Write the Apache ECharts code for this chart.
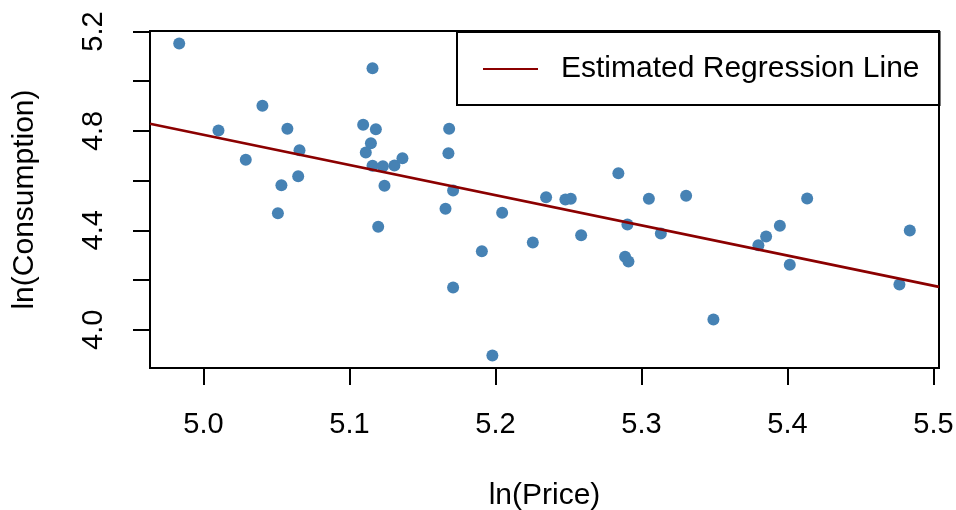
<!DOCTYPE html>
<html>
<head>
<meta charset="utf-8">
<script src="https://cdn.jsdelivr.net/npm/echarts@6/dist/echarts.min.js"></script>
<style>
html,body{margin:0;padding:0;background:#fff;}
#chart{width:956px;height:510px;}
</style>
</head>
<body>
<div id="chart"></div>
<script>
// ln(Price) of each observation
var lnPrice = [4.9834, 5.1158, 5.0404, 5.0103, 5.0575, 5.1094, 5.1181, 5.1683, 5.1147, 5.1112,
  5.1678, 5.0658, 5.0290, 5.1158, 5.1229, 5.1308, 5.1363, 5.0649, 5.0534, 5.1240,
  5.1710, 5.0510, 5.1658, 5.1197, 5.1710, 5.2842, 5.2347, 5.2479, 5.2516, 5.3051,
  5.3306, 5.4135, 5.2046, 5.2904, 5.2256, 5.2587, 5.3133, 5.3948, 5.3854, 5.3801,
  5.1907, 5.2888, 5.2911, 5.4016, 5.4767, 5.4838, 5.3493, 5.1979];
// ln(Consumption) of each observation
var lnCons = [5.1517, 5.0523, 4.9010, 4.8016, 4.8085, 4.8245, 4.8068, 4.8085, 4.7505, 4.7131,
  4.7103, 4.7223, 4.6837, 4.6596, 4.6580, 4.6608, 4.6901, 4.6177, 4.5815, 4.5791,
  4.5602, 4.4688, 4.4865, 4.4141, 4.1698, 4.6298, 4.5332, 4.5239, 4.5268, 4.5268,
  4.5388, 4.5280, 4.4704, 4.4233, 4.3509, 4.3803, 4.3871, 4.4181, 4.3751, 4.3400,
  4.3159, 4.2934, 4.2744, 4.2612, 4.1819, 4.3992, 4.0410, 3.8962];
// Estimated regression line endpoints
var lineX = [4.9634, 5.5038];
var lineY = [4.8286, 4.1726];
// Tick positions and labels
var xTicks = [5.0, 5.1, 5.2, 5.3, 5.4, 5.5];
var yTicks = [4.0, 4.2, 4.4, 4.6, 4.8, 5.0, 5.2];
var yLabels = [4.0, 4.4, 4.8, 5.2];
var xRange = [4.9634, 5.5038];
var yRange = [3.846, 5.202];

var points = lnPrice.map(function (x, i) { return [x, lnCons[i]]; });
var linePts = lineX.map(function (x, i) { return [x, lineY[i]]; });

var FONT = 'Liberation Sans, Arial, Helvetica, sans-serif';
var chart = echarts.init(document.getElementById('chart'), null, {renderer: 'canvas'});
chart.setOption({
  animation: false,
  backgroundColor: '#fff',
  textStyle: {fontFamily: FONT, color: '#000'},
  grid: {left: 150, right: 17, top: 31, bottom: 142, show: true, borderColor: '#000', borderWidth: 2,
    backgroundColor: 'transparent', containLabel: false, outerBoundsMode: 'none'},
  xAxis: {
    type: 'value', min: xRange[0], max: xRange[1],
    name: 'ln(Price)', nameLocation: 'middle', nameGap: 113,
    nameTextStyle: {fontSize: 30, fontFamily: FONT, color: '#000'},
    splitLine: {show: false},
    axisLine: {show: false},
    axisTick: {show: true, inside: false, length: 17, customValues: xTicks, lineStyle: {color: '#000', width: 2}},
    axisLabel: {customValues: xTicks, margin: 42, fontSize: 29, fontFamily: FONT, color: '#000',
      formatter: function (v) { return v.toFixed(1); }}
  },
  yAxis: {
    type: 'value', min: yRange[0], max: yRange[1],
    name: 'ln(Consumption)', nameLocation: 'middle', nameGap: 110,
    nameTextStyle: {fontSize: 30, fontFamily: FONT, color: '#000'},
    splitLine: {show: false},
    axisLine: {show: false},
    axisTick: {show: true, inside: false, length: 17, customValues: yTicks, lineStyle: {color: '#000', width: 2}},
    axisLabel: {customValues: yLabels, rotate: 90, margin: 42, fontSize: 29, fontFamily: FONT, color: '#000',
      formatter: function (v) { return v.toFixed(1); }}
  },
  legend: {
    show: true, left: 457, top: 32, orient: 'vertical',
    padding: [22, 20, 21, 26],
    borderColor: '#000', borderWidth: 2, borderRadius: 0,
    itemWidth: 55, itemHeight: 14,
    data: [{name: 'Estimated Regression Line', icon: 'path://M0,0 L55,0 L55,2 L0,2 Z'}],
    itemStyle: {color: '#8B0000'},
    textStyle: {fontSize: 30, fontFamily: FONT, color: '#000', padding: [0, 0, 0, 18]}
  },
  series: [
    {
      type: 'scatter', name: 'points', data: points, symbol: 'circle', symbolSize: 12,
      itemStyle: {color: '#4682B4', opacity: 1}, z: 2
    },
    {
      type: 'line', name: 'Estimated Regression Line', data: linePts, symbol: 'none', showSymbol: false,
      lineStyle: {color: '#8B0000', width: 2.7}, itemStyle: {color: '#8B0000'}, z: 3, clip: true
    }
  ]
});
</script>
</body>
</html>
